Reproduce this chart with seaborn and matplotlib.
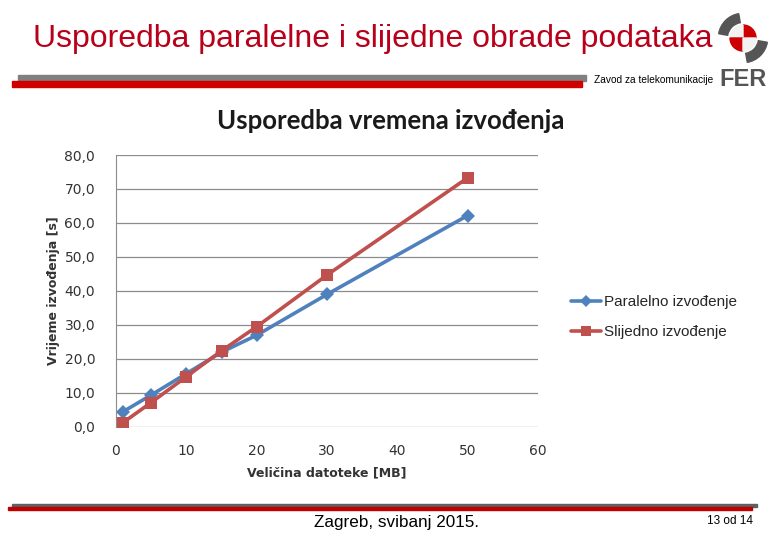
import pandas as pd
import matplotlib
matplotlib.use("Agg")
import matplotlib.pyplot as plt
import matplotlib.patches as mpatches
import seaborn as sns

# ---------- Data ----------
velicina_mb = [1, 5, 10, 15, 20, 30, 50]
paralelno = [4.5, 9.4, 15.7, 22.0, 27.0, 39.0, 62.2]
slijedno = [1.3, 7.2, 14.8, 22.4, 29.5, 44.7, 73.3]
serije = ["Paralelno izvođenje", "Slijedno izvođenje"]
y_ticks = [0, 10, 20, 30, 40, 50, 60, 70, 80]
x_ticks = [0, 10, 20, 30, 40, 50, 60]

df = pd.DataFrame({
    "x": velicina_mb * 2,
    "y": paralelno + slijedno,
    "serija": [serije[0]] * len(velicina_mb) + [serije[1]] * len(velicina_mb),
})

# ---------- Setup ----------
sns.set_style("white")
plt.rcParams["font.family"] = ["DejaVu Sans"]

fig = plt.figure(figsize=(7.8, 5.4), dpi=100)
ax = fig.add_axes([116 / 780, 1 - 427 / 540, (538 - 116) / 780, (427 - 155) / 540])

sns.lineplot(
    data=df, x="x", y="y", hue="serija", style="serija",
    palette=["#4F81BD", "#C0504D"],
    markers={serije[0]: "D", serije[1]: "s"},
    dashes=False, markersize=9, linewidth=2.6,
    markeredgewidth=0, ax=ax, legend=False,
)
# smaller diamond for the blue series
ax.lines[0].set_markersize(7)

ax.set_xlim(0, 60)
ax.set_ylim(0, 80)
ax.set_xticks(x_ticks)
ax.set_yticks(y_ticks)
ax.set_yticklabels([f"{v:.1f}".replace(".", ",") for v in y_ticks])
ax.yaxis.grid(True, color="#8c8c8c", linewidth=0.9)
ax.set_axisbelow(True)
for s in ["top", "right", "bottom"]:
    ax.spines[s].set_visible(False)
ax.spines["left"].set_color("#8c8c8c")
ax.tick_params(axis="y", length=4, color="#8c8c8c", labelsize=10, labelcolor="#333333", pad=11)
ax.tick_params(axis="x", length=0, labelsize=10, labelcolor="#333333", pad=12)
ax.set_xlabel("Veličina datoteke [MB]", fontsize=9, fontweight="bold", color="#333333", labelpad=6)
ax.set_ylabel("Vrijeme izvođenja [s]", fontsize=9, fontweight="bold", color="#333333", labelpad=3)

# chart title
fig.text(391 / 780, 1 - 121 / 540, "Usporedba vremena izvođenja", ha="center", va="center",
         fontsize=18.5, fontweight="bold", family="Lato", color="#1a1a1a")

# legend
handles = [plt.Line2D([], [], color="#4F81BD", marker="D", markersize=6.5, lw=2.6, markeredgewidth=0),
           plt.Line2D([], [], color="#C0504D", marker="s", markersize=7.5, lw=2.6, markeredgewidth=0)]
fig.legend(handles, serije, loc="center left", bbox_to_anchor=(557 / 780, 1 - 317 / 540),
           frameon=False, handlelength=2.0, handletextpad=0.15, labelspacing=1.05,
           prop={"family": "Liberation Sans", "size": 11})

# ---------- Slide decoration ----------
fig.text(33 / 780, 1 - 39 / 540, "Usporedba paralelne i slijedne obrade podataka", ha="left", va="center",
         fontsize=23, family="Liberation Sans", color="#B8001A")
fig.patches.append(mpatches.Rectangle((18 / 780, 1 - 81 / 540), (586 - 18) / 780, 6 / 540,
                                      transform=fig.transFigure, color="#808080"))
fig.patches.append(mpatches.Rectangle((12 / 780, 1 - 87 / 540), (582 - 12) / 780, 6 / 540,
                                      transform=fig.transFigure, color="#D00000"))
fig.text(594 / 780, 1 - 80 / 540, "Zavod za telekomunikacije", ha="left", va="center",
         fontsize=7.3, family="Liberation Sans", color="#000000")

# logo
logo = fig.add_axes([717 / 780, 1 - 64 / 540, 52 / 780, 52 / 540])
logo.set_xlim(-1, 1)
logo.set_ylim(-1, 1)
logo.set_aspect("equal")
logo.axis("off")
logo.add_patch(mpatches.Wedge((0, 0), 0.95, 100, 170, width=0.35, color="#555555"))
logo.add_patch(mpatches.Wedge((0, 0), 0.95, 280, 350, width=0.35, color="#555555"))
logo.add_patch(mpatches.Wedge((0, 0), 0.5, 0, 90, color="#CC0000"))
logo.add_patch(mpatches.Wedge((0, 0), 0.5, 90, 180, color="#f2f2f2"))
logo.add_patch(mpatches.Wedge((0, 0), 0.5, 180, 270, color="#CC0000"))
logo.add_patch(mpatches.Wedge((0, 0), 0.5, 270, 360, color="#f2f2f2"))
fig.text(743 / 780, 1 - 80 / 540, "FER", ha="center", va="center", fontsize=17,
         fontweight="bold", family="Liberation Sans", color="#555555")

# footer
fig.patches.append(mpatches.Rectangle((12 / 780, 1 - 507 / 540), (757 - 12) / 780, 3 / 540,
                                      transform=fig.transFigure, color="#606060"))
fig.patches.append(mpatches.Rectangle((8 / 780, 1 - 510 / 540), (752 - 8) / 780, 3 / 540,
                                      transform=fig.transFigure, color="#C00000"))
fig.text(396 / 780, 1 - 523 / 540, "Zagreb, svibanj 2015.", ha="center", va="center",
         fontsize=12.3, family="Liberation Sans", color="#000000")
fig.text(730 / 780, 1 - 521 / 540, "13 od 14", ha="center", va="center",
         fontsize=8.5, family="Liberation Sans", color="#000000")

fig.savefig("out.png", dpi=100)
